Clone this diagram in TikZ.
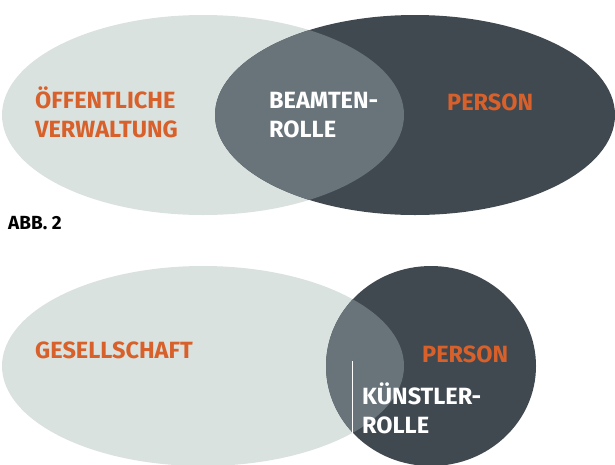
\documentclass[tikz,border=0pt]{standalone}
\usepackage{fontspec}
\setmainfont{Fira Sans}
\usetikzlibrary{positioning}
\definecolor{hellgrau}{HTML}{DAE2DF}
\definecolor{dunkel}{HTML}{414950}
\definecolor{schnitt}{HTML}{68737A}
\definecolor{orange}{HTML}{D8602A}
\begin{document}
\begin{tikzpicture}[x=1pt,y=-1pt,
  lbl/.style={inner sep=0pt, anchor=base west, align=left, font=\bfseries\fontsize{23.5}{29}\selectfont},
  org/.style={lbl, text=orange},
  wht/.style={lbl, text=white}]
\useasboundingbox (0,0) rectangle (615,464);
% oben
\fill[hellgrau] (203,115) ellipse [x radius=201, y radius=100];
\fill[dunkel] (415,115) ellipse [x radius=200, y radius=100];
\begin{scope}
\clip (203,115) ellipse [x radius=201, y radius=100];
\fill[schnitt] (415,115) ellipse [x radius=200, y radius=100];
\end{scope}
\node[org] (verwaltung) at (35,137) {ÖFFENTLICHE\\VERWALTUNG};
\node[wht] (beamten) at (269,137) {BEAMTEN-\\ROLLE};
\node[org] (person1) at (447,110) {PERSON};
\node[inner sep=0pt, anchor=base west, font=\bfseries\fontsize{19}{22}\selectfont] (abb) at (8,229) {ABB. 2};
% unten
\fill[hellgrau] (203,366) ellipse [x radius=201, y radius=100];
\fill[dunkel] (431,366) ellipse [x radius=105, y radius=100];
\begin{scope}
\clip (203,366) ellipse [x radius=201, y radius=100];
\fill[schnitt] (431,366) ellipse [x radius=105, y radius=100];
\end{scope}
\node[org] (gesellschaft) at (35,358) {GESELLSCHAFT};
\node[org] (person2) at (422,362) {PERSON};
\node[wht] (kuenstler) at (362,433) {KÜNSTLER-\\ROLLE};
\coordinate (strich-o) at (352.5,361);
\coordinate (strich-u) at (352.5,433);
\draw[white, line width=1.2pt] (strich-o) -- (strich-u);
\end{tikzpicture}
\end{document}
